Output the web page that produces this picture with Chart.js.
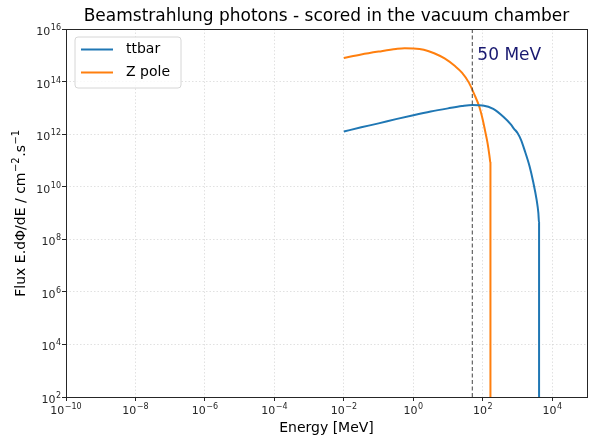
<!DOCTYPE html>
<html><head><meta charset="utf-8">
<script src="https://cdn.jsdelivr.net/npm/chart.js@4.4.0/dist/chart.umd.min.js"></script>
<style>html,body{margin:0;padding:0;background:#fff;}#wrap{width:596px;height:444px;}</style>
</head><body><div id="wrap"><canvas id="c" width="596" height="444"></canvas></div>
<script>
// Data (energy in MeV, flux E.dPhi/dE)
const energyTtbar = [0.01, 0.0316, 0.1, 0.316, 1, 3.16, 10, 25.1, 50.1, 100, 200, 398, 631, 794, 1000, 1259, 1585, 2239, 2818, 3548, 3981, 4169, 4169];
const fluxTtbar   = [1.26e12, 1.82e12, 2.57e12, 3.72e12, 5.25e12, 7.24e12, 9.55e12, 1.17e13, 1.29e13, 1.23e13, 9.1e12, 4.47e12, 2.4e12, 1.6e12, 1.1e12, 6.0e11, 2.51e11, 5.75e10, 1.55e10, 3.16e9, 1.0e9, 4.17e8, 1];
const energyZpole = [0.01, 0.0316, 0.1, 0.316, 0.562, 1, 2.0, 3.98, 7.94, 15.8, 25.1, 39.8, 56.2, 79.4, 100, 117.5, 131.8, 144.5, 158.5, 166, 166];
const fluxZpole   = [7.94e14, 1.07e15, 1.38e15, 1.74e15, 1.86e15, 1.82e15, 1.62e15, 1.20e15, 7.59e14, 3.89e14, 2.19e14, 9.12e13, 3.39e13, 1.10e13, 3.47e12, 1.26e12, 6.03e11, 2.95e11, 1.23e11, 7.94e10, 1];
const seriesNames = ['ttbar', 'Z pole'];
const cutEnergy = 50; // MeV
const cutLabel = '50 MeV';
const xTicks = [1e-10, 1e-8, 1e-6, 1e-4, 1e-2, 1e0, 1e2, 1e4];
const xTickLabels = ['10⁻¹⁰', '10⁻⁸', '10⁻⁶', '10⁻⁴', '10⁻²', '10⁰', '10²', '10⁴'];
const yTicks = [1e2, 1e4, 1e6, 1e8, 1e10, 1e12, 1e14, 1e16];
const yTickLabels = ['10²', '10⁴', '10⁶', '10⁸', '10¹⁰', '10¹²', '10¹⁴', '10¹⁶'];
const titleText = 'Beamstrahlung photons - scored in the vacuum chamber';
const xTitle = 'Energy [MeV]';
const yTitleParts = [['Flux E.dΦ/dE / cm', false], ['−2', true], ['.s', false], ['−1', true]]; // Flux E.dΦ/dE / cm⁻².s⁻¹

const FONT = "'DejaVu Sans', sans-serif";
const BLUE = '#1f77b4', ORANGE = '#ff7f0e';
const SUP = {'⁰':'0','¹':'1','²':'2','³':'3','⁴':'4','⁵':'5','⁶':'6','⁷':'7','⁸':'8','⁹':'9','⁻':'−'};

const toPts = (xs, ys) => xs.map((x, i) => ({x: x, y: ys[i]}));

// draw "10" + raised exponent like matplotlib mathtext
function drawPow(ctx, label, x, y, align) {
  const base = label.slice(0, 2);
  const exp = Array.from(label.slice(2)).map(c => SUP[c] || c).join('');
  ctx.font = '11px ' + FONT;
  const wb = ctx.measureText(base).width;
  ctx.font = '8px ' + FONT;
  const we = ctx.measureText(exp).width;
  const w = wb + we + 0.5;
  let x0 = align === 'right' ? x - w : x - w / 2;
  ctx.textAlign = 'left'; ctx.textBaseline = 'alphabetic';
  ctx.font = '11px ' + FONT;
  ctx.fillText(base, x0, y);
  ctx.font = '8px ' + FONT;
  ctx.fillText(exp, x0 + wb + 0.5, y - 5);
}

const decor = {
  id: 'decor',
  afterDraw(chart) {
    const ctx = chart.ctx, a = chart.chartArea;
    const xs = chart.scales.x, ys = chart.scales.y;
    ctx.save();
    // frame
    ctx.strokeStyle = '#262626'; ctx.lineWidth = 1;
    ctx.strokeRect(Math.round(a.left) + 0.5, Math.round(a.top) + 0.5, Math.round(a.right - a.left), Math.round(a.bottom - a.top));
    // tick labels
    ctx.fillStyle = '#262626';
    xTicks.forEach((v, i) => drawPow(ctx, xTickLabels[i], xs.getPixelForValue(v), a.bottom + 17, 'center'));
    yTicks.forEach((v, i) => drawPow(ctx, yTickLabels[i], a.left - 5, ys.getPixelForValue(v) + 6, 'right'));
    // 50 MeV text
    ctx.fillStyle = '#191970';
    ctx.font = '17px ' + FONT;
    ctx.textBaseline = 'middle'; ctx.textAlign = 'left';
    ctx.fillText(cutLabel, xs.getPixelForValue(cutEnergy) + 5, ys.getPixelForValue(1e15));
    // legend
    const lx = 75, ly = 37, lw = 106, lh = 51, r = 3;
    ctx.beginPath();
    ctx.moveTo(lx + r, ly); ctx.lineTo(lx + lw - r, ly); ctx.arcTo(lx + lw, ly, lx + lw, ly + r, r);
    ctx.lineTo(lx + lw, ly + lh - r); ctx.arcTo(lx + lw, ly + lh, lx + lw - r, ly + lh, r);
    ctx.lineTo(lx + r, ly + lh); ctx.arcTo(lx, ly + lh, lx, ly + lh - r, r);
    ctx.lineTo(lx, ly + r); ctx.arcTo(lx, ly, lx + r, ly, r); ctx.closePath();
    ctx.fillStyle = 'rgba(255,255,255,0.8)'; ctx.fill();
    ctx.strokeStyle = '#d6d6d6'; ctx.lineWidth = 1; ctx.stroke();
    const cols = [BLUE, ORANGE];
    ctx.font = '14px ' + FONT;
    ctx.textBaseline = 'middle';
    seriesNames.forEach((n, i) => {
      const yy = 49.5 + i * 23;
      ctx.strokeStyle = cols[i]; ctx.lineWidth = 2;
      ctx.beginPath(); ctx.moveTo(81, yy); ctx.lineTo(113, yy); ctx.stroke();
      ctx.fillStyle = '#000';
      ctx.fillText(n, 126, yy);
    });
    // title
    ctx.fillStyle = '#000';
    ctx.textAlign = 'center';
    ctx.font = '17px ' + FONT;
    ctx.fillText(titleText, (a.left + a.right) / 2, 17);
    // x label
    ctx.font = '14px ' + FONT;
    ctx.fillText(xTitle, (a.left + a.right) / 2, 428);
    // y label with mathtext-like superscripts
    ctx.translate(25, (a.top + a.bottom) / 2);
    ctx.rotate(-Math.PI / 2);
    ctx.textAlign = 'left'; ctx.textBaseline = 'alphabetic';
    const fN = '14px ' + FONT, fS = '10px ' + FONT;
    let total = 0;
    yTitleParts.forEach(([t, s]) => { ctx.font = s ? fS : fN; total += ctx.measureText(t).width + (s ? 1 : 0); });
    let cx = -total / 2;
    yTitleParts.forEach(([t, s]) => {
      ctx.font = s ? fS : fN;
      ctx.fillText(t, cx + (s ? 0.5 : 0), s ? -6 : 0);
      cx += ctx.measureText(t).width + (s ? 1 : 0);
    });
    ctx.restore();
  }
};

const lineStyle = {pointRadius: 0, borderWidth: 2, fill: false, cubicInterpolationMode: 'monotone'};

new Chart(document.getElementById('c'), {
  type: 'line',
  data: {
    datasets: [
      {label: 'cut', data: [{x: cutEnergy, y: 1e2}, {x: cutEnergy, y: 1e16}], borderColor: 'rgba(60,60,60,0.8)', borderWidth: 1.2, borderDash: [4, 2.5], pointRadius: 0},
      Object.assign({label: seriesNames[0], data: toPts(energyTtbar, fluxTtbar), borderColor: BLUE}, lineStyle),
      Object.assign({label: seriesNames[1], data: toPts(energyZpole, fluxZpole), borderColor: ORANGE}, lineStyle)
    ]
  },
  options: {
    responsive: false, animation: false,
    layout: {padding: {top: 29, right: 9, left: 0, bottom: 0}},
    plugins: {legend: {display: false}, tooltip: {enabled: false}},
    scales: {
      x: {
        type: 'logarithmic', min: 1e-10, max: 1e5,
        afterFit: s => { s.height = 47; },
        afterBuildTicks: s => { s.ticks = xTicks.map(v => ({value: v})); },
        ticks: {display: false, autoSkip: false, maxRotation: 0, callback: (v, i) => xTickLabels[i]},
        grid: {color: 'rgba(200,200,200,0.55)', tickColor: '#262626', tickLength: 4, tickBorderDash: [], lineWidth: 1},
        border: {display: false, dash: [1.5, 2]}
      },
      y: {
        type: 'logarithmic', min: 1e2, max: 1e16,
        afterFit: s => { s.width = 66; },
        afterBuildTicks: s => { s.ticks = yTicks.map(v => ({value: v})); },
        ticks: {display: false, autoSkip: false, callback: (v, i) => yTickLabels[i]},
        grid: {color: 'rgba(200,200,200,0.55)', tickColor: '#262626', tickLength: 4, tickBorderDash: [], lineWidth: 1},
        border: {display: false, dash: [1.5, 2]}
      }
    }
  },
  plugins: [decor]
});
</script></body></html>
